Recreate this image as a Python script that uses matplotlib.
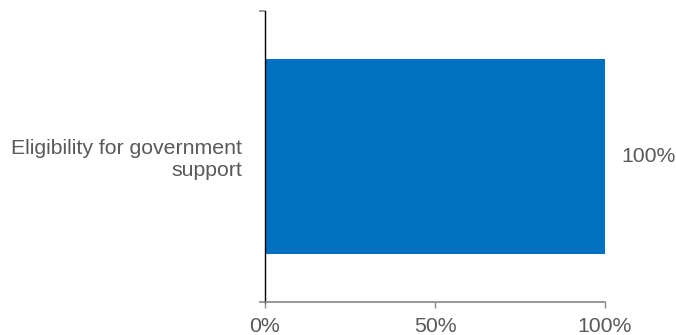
import matplotlib
matplotlib.use("Agg")
import matplotlib.pyplot as plt
from matplotlib.ticker import FixedLocator, NullFormatter

# data
categories = ["Eligibility for government\nsupport"]
values = [1.0]
value_labels = ["100%"]
x_ticks = [0, 0.5, 1.0]
x_tick_labels = ["0%", "50%", "100%"]

BAR_COLOR = "#0070C0"
TEXT_COLOR = "#595959"
GRID_GRAY = "#868686"
FS = 15.3

plt.rcParams["font.family"] = ["Liberation Sans", "DejaVu Sans"]

W, H = 676, 335
fig = plt.figure(figsize=(W / 100, H / 100), dpi=100)
ax = fig.add_axes([265 / W, 1 - 302 / H, 340 / W, 291 / H])

ypos = list(range(len(categories)))
ax.barh(ypos, values, height=0.667, color=BAR_COLOR)
ax.set_xlim(0, 1.0)
ax.set_ylim(-0.5, len(categories) - 0.5)

for y, v, lab in zip(ypos, values, value_labels):
    ax.annotate(lab, (v, y), xytext=(12, 0), textcoords="offset points",
                ha="left", va="center", fontsize=FS, color=TEXT_COLOR)

# spines
for s in ["top", "right"]:
    ax.spines[s].set_visible(False)
ax.spines["left"].set_color("black")
ax.spines["left"].set_linewidth(1.0)
ax.spines["bottom"].set_color(GRID_GRAY)
ax.spines["bottom"].set_linewidth(1.2)

# x ticks
ax.set_xticks(x_ticks)
ax.set_xticklabels(x_tick_labels)
ax.tick_params(axis="x", direction="out", length=4.5, width=1.0, color=GRID_GRAY,
               labelsize=FS, labelcolor=TEXT_COLOR, pad=6)

# category boundaries as ticks, labels in the middle
ax.yaxis.set_major_locator(FixedLocator([-0.5, len(categories) - 0.5]))
ax.yaxis.set_major_formatter(NullFormatter())
ax.tick_params(axis="y", which="major", direction="out", length=4.5, width=1.2,
               color=GRID_GRAY)
ax.yaxis.set_minor_locator(FixedLocator(ypos))
ax.set_yticklabels(categories, minor=True)
ax.tick_params(axis="y", which="minor", length=0, labelsize=FS,
               labelcolor=TEXT_COLOR, pad=16.5)
for t in ax.get_yticklabels(minor=True):
    t.set_horizontalalignment("right")
    t.set_multialignment("right")

fig.savefig("out.png", dpi=100)
